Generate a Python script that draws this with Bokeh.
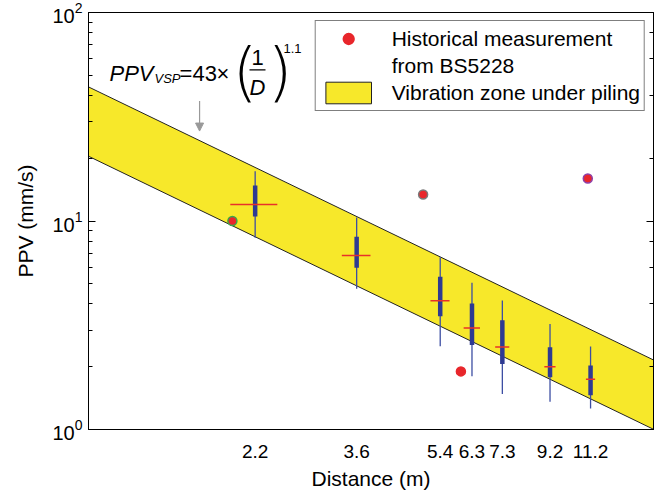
from bokeh.plotting import figure
from bokeh.models import (LogAxis, FixedTicker, PrintfTickFormatter, Legend, LegendItem,
                          Label, Arrow, NormalHead, BoxAnnotation, Range1d, LogTicker)
from bokeh.embed import file_html
from bokeh.resources import INLINE

# ---- data ----
dist = [2.2, 3.6, 5.4, 6.3, 7.3, 9.2, 11.2]
whisker_hi = [17.3, 10.4, 6.7, 5.05, 4.16, 3.21, 2.50]
q3 = [14.8, 8.4, 5.4, 4.02, 3.34, 2.48, 2.03]
median = [12.0, 6.83, 4.14, 3.07, 2.49, 2.00, 1.74]
q1 = [10.5, 5.96, 3.49, 2.54, 2.06, 1.78, 1.46]
whisker_lo = [8.3, 4.73, 2.51, 1.80, 1.48, 1.36, 1.26]

hist_d = [1.97, 4.97, 5.97, 11.05]
hist_ppv = [10.0, 13.4, 1.9, 16.0]
hist_edge = ["#3aa54a", "#7a7a7a", "#e8262b", "#8e3fa8"]

band_upper_coef = 43.0
band_lower_coef = 20.0
band_exp = 1.1
band_d = [0.98, 15.2]

x_ticks = dist
FONT = "Liberation Sans"

FL, FT = 88, 12  # frame offsets inside the canvas

p = figure(x_axis_type="log", y_axis_type="log",
           x_range=Range1d(0.98, 15.2), y_range=Range1d(1, 100),
           frame_width=565, frame_height=417,
           min_border_left=FL, min_border_top=FT, min_border_right=6, min_border_bottom=60,
           output_backend="svg", toolbar_location=None)
p.grid.visible = False
p.outline_line_color = "black"
p.outline_line_alpha = 1.0
p.background_fill_color = "white"
p.border_fill_color = "white"

# band
bx = [band_d[0], band_d[1], band_d[1], band_d[0]]
by = [band_upper_coef * band_d[0] ** -band_exp, band_upper_coef * band_d[1] ** -band_exp,
      band_lower_coef * band_d[1] ** -band_exp, band_lower_coef * band_d[0] ** -band_exp]
band = p.patch(bx, by, fill_color="#f7e82a", line_color="#222222", line_width=1)

# box plots
p.segment(x0=dist, y0=whisker_lo, x1=dist, y1=whisker_hi, line_color="#3d4ea3", line_width=1.3)
p.segment(x0=dist, y0=q1, x1=dist, y1=q3, line_color="#2e3a92", line_width=4.5, line_cap="butt")
half = 0.25
p.segment(x0=[d - half for d in dist], y0=median, x1=[d + half for d in dist], y1=median,
          line_color="#e8302a", line_width=1.5)

# historical points
hist = p.scatter(x=hist_d, y=hist_ppv, size=9, fill_color="#e8262b", line_color=hist_edge, line_width=1.5)
blank = p.scatter(x=[], y=[], fill_alpha=0, line_alpha=0)

# axes styling
xa = p.xaxis[0]
xa.ticker = FixedTicker(ticks=x_ticks, minor_ticks=[])
xa.formatter = PrintfTickFormatter(format="%.1f")
xa.major_tick_in = 0
xa.major_tick_out = 0
xa.minor_tick_in = 0
xa.minor_tick_out = 0
xa.axis_label = "Distance (m)"
xa.major_label_standoff = 15
xa.axis_label_standoff = 6

ya = p.yaxis[0]
ya.axis_label = "PPV (mm/s)"
ya.major_tick_in = 7
ya.major_tick_out = 0
ya.minor_tick_in = 4
ya.minor_tick_out = 0
ya.major_label_standoff = 6
ya.axis_label_standoff = 12

ry = LogAxis(ticker=LogTicker())
ry.major_tick_in = 7
ry.major_tick_out = 0
ry.minor_tick_in = 4
ry.minor_tick_out = 0
ry.major_label_text_font_size = "2px"
ry.major_label_text_alpha = 0
ry.major_label_standoff = 0
p.add_layout(ry, "right")

for ax in [xa, ya, ry]:
    ax.axis_line_color = "black"
    ax.major_tick_line_color = "black"
    ax.minor_tick_line_color = "black"
    ax.major_label_text_font = FONT
    ax.axis_label_text_font = FONT
    ax.axis_label_text_font_style = "normal"
    ax.axis_label_text_color = "black"
for ax in [xa, ya]:
    ax.major_label_text_color = "black"
    ax.axis_label_text_font_size = "21px"
xa.major_label_text_font_size = "19px"
ya.major_label_text_font_size = "20px"

# legend
legend = Legend(items=[
    LegendItem(label="Historical measurement", renderers=[hist], index=2),
    LegendItem(label="from BS5228", renderers=[blank]),
    LegendItem(label="Vibration zone under piling", renderers=[band]),
], location="top_right")
legend.label_text_font = FONT
legend.label_text_font_size = "21px"
legend.label_text_color = "black"
legend.glyph_width = 57
legend.glyph_height = 27
legend.label_height = 27
legend.label_standoff = 15
legend.padding = 4
legend.spacing = 0
legend.margin = 8
legend.border_line_color = "black"
legend.border_line_width = 1
legend.background_fill_alpha = 1.0
p.add_layout(legend)

# formula (page coordinates of the reference, converted to frame-relative screen units)
def lab(x, y, t, size, style="normal", align="left", font=FONT):
    p.add_layout(Label(x=x - 89, y=430 - y, x_units="screen", y_units="screen", text=t,
                       text_font=font, text_font_size=size, text_font_style=style,
                       text_align=align, text_baseline="alphabetic", text_color="black"))

lab(110, 74, "PPV", "22px", "italic")
lab(155, 79, "VSP", "13px", "italic")
lab(180, 74, "=", "22px")
lab(193, 74, "43", "22px")
lab(217, 74, "\u00d7", "22px")
lab(233, 72, "(", "64px", font="DejaVu Sans Light")
lab(258, 58, "1", "22px", align="center")
lab(258, 88, "D", "22px", "italic", align="center")
lab(268, 72, ")", "64px", font="DejaVu Sans Light")
lab(284, 49, "1.1", "13px")
p.add_layout(BoxAnnotation(left=250 - 89, right=266 - 89, bottom=430 - 71, top=430 - 69.8,
                           left_units="screen", right_units="screen",
                           bottom_units="screen", top_units="screen",
                           fill_color="black", fill_alpha=1, line_color=None))

# arrow
p.add_layout(Arrow(end=NormalHead(size=8, fill_color="#999999", line_color="#999999"),
                   x_start=1.68, y_start=37.6, x_end=1.68, y_end=27.0,
                   line_color="#999999", line_width=1.2))

open("out.html", "w").write(file_html(p, INLINE))
